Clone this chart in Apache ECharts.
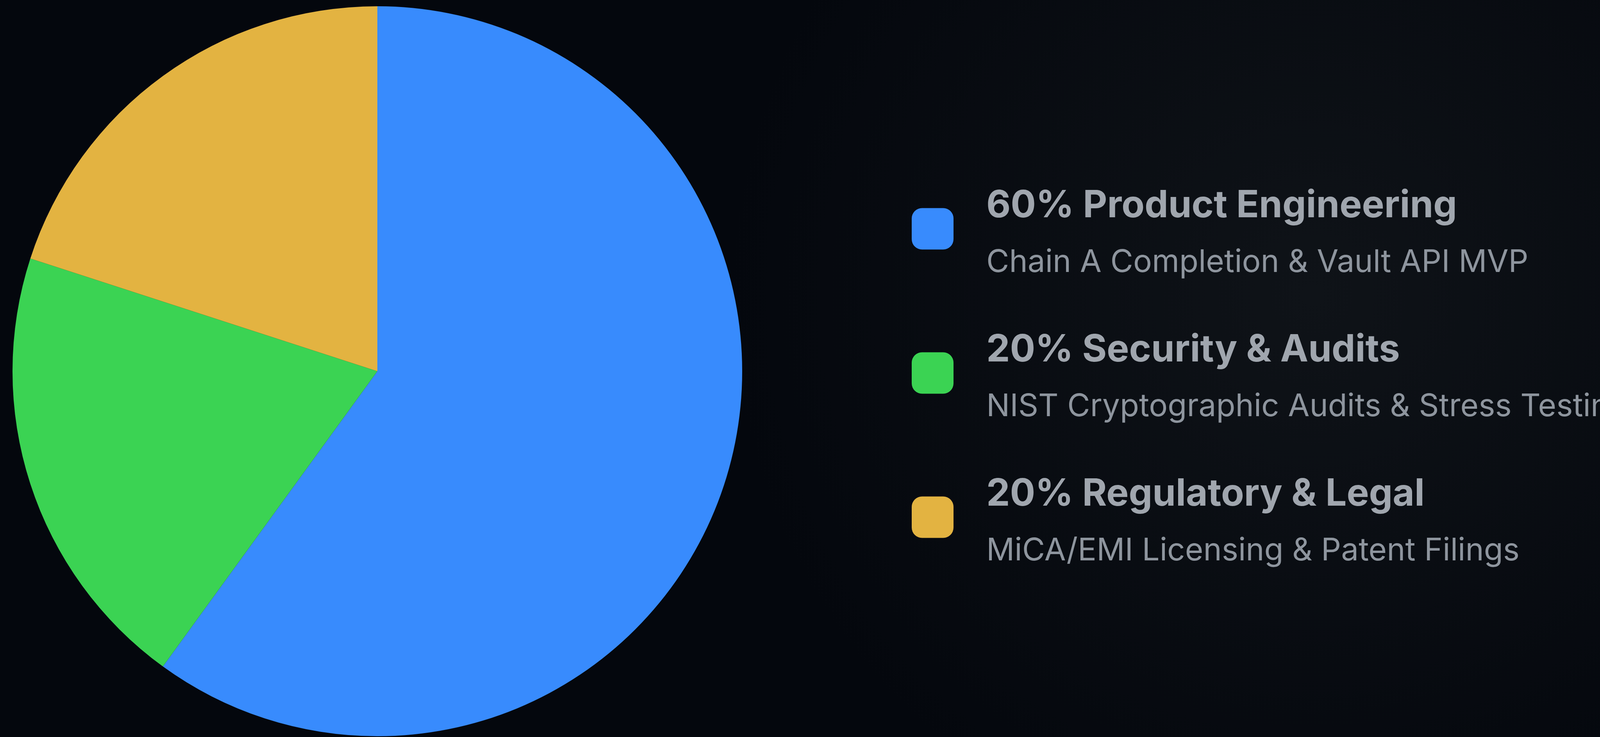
<!DOCTYPE html>
<html>
<head>
<meta charset="utf-8">
<script src="https://cdn.jsdelivr.net/npm/echarts@6/dist/echarts.min.js"></script>
<style>
  html, body { margin: 0; padding: 0; background: #05080e; }
  #chart { width: 4200px; height: 1886px; }
</style>
</head>
<body>
<div id="chart"></div>
<script>
const categories = ['Product Engineering', 'Security & Audits', 'Regulatory & Legal'];
const shares = [60, 20, 20];
const details = [
  'Chain A Completion & Vault API MVP',
  'NIST Cryptographic Audits & Stress Testing',
  'MiCA/EMI Licensing & Patent Filings'
];
const colors = ['#388bfd', '#3bd353', '#e3b341'];

const chart = echarts.init(document.getElementById('chart'), null, { renderer: 'canvas' });

const option = {
  backgroundColor: {
    type: 'radial', x: 0.8, y: 0.4, r: 0.8,
    colorStops: [
      { offset: 0, color: '#0f1318' },
      { offset: 1, color: '#04070d' }
    ]
  },
  animation: false,
  legend: {
    orient: 'vertical',
    left: 2329,
    top: 474,
    itemWidth: 107,
    itemHeight: 106,
    itemGap: 136,
    icon: 'roundRect',
    selectedMode: false,
    data: categories,
    formatter: function (name) {
      const i = categories.indexOf(name);
      return '{h|' + shares[i] + '% ' + name + '}\n{s|' + details[i] + '}';
    },
    textStyle: {
      rich: {
        h: {
          fontFamily: 'Inter', fontWeight: 'bold', fontSize: 96,
          color: '#a0a6ae', lineHeight: 173, padding: [0, 0, 0, 79]
        },
        s: {
          fontFamily: 'Inter', fontWeight: 'normal', fontSize: 80,
          color: '#8e959e', lineHeight: 117, padding: [0, 0, 0, 79]
        }
      }
    }
  },
  series: [{
    type: 'pie',
    center: [966, 950],
    radius: 934,
    startAngle: 90,
    clockwise: true,
    label: { show: false },
    labelLine: { show: false },
    emphasis: { disabled: true },
    itemStyle: { borderWidth: 0 },
    data: categories.map(function (c, i) {
      return { name: c, value: shares[i], itemStyle: { color: colors[i] } };
    })
  }]
};
chart.setOption(option);
</script>
</body>
</html>
